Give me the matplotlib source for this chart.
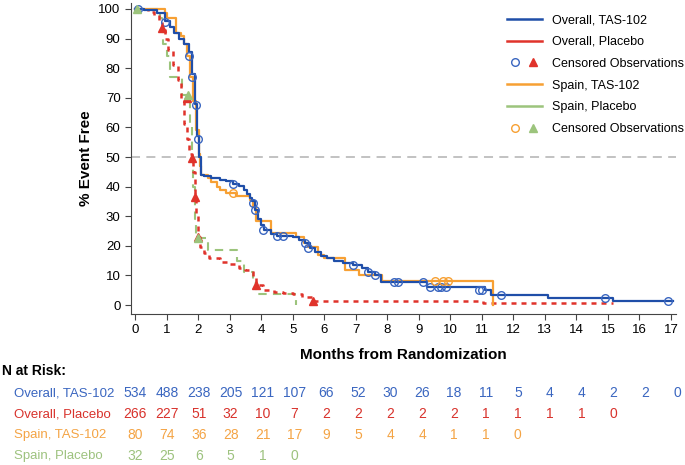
import matplotlib
matplotlib.use("Agg")
import matplotlib.pyplot as plt
from matplotlib.lines import Line2D
from matplotlib.legend_handler import HandlerTuple

plt.rcParams['font.family'] = ['Liberation Sans', 'DejaVu Sans']

# --- Kaplan-Meier step data (months, % event free) ---
ov_tas_t = [0, 0.3, 0.7, 0.95, 1.1, 1.25, 1.4, 1.55, 1.7, 1.8, 1.9, 1.97, 2.03, 2.1, 2.2, 2.4,
            2.7, 2.9, 3.1, 3.3, 3.45, 3.55, 3.65, 3.72, 3.8, 3.9, 4.0, 4.1, 4.3, 4.5, 5.0,
            5.2, 5.4, 5.55, 5.7, 5.9, 6.1, 6.3, 6.6, 6.9, 7.2, 7.4, 7.6, 7.8, 9.25, 11.1,
            11.3, 13.1, 15.15, 17.05]
ov_tas_s = [100, 99.5, 98.5, 96, 94, 92, 90, 88, 85.5, 78, 68, 57, 50, 44, 43.5, 43,
            42.3, 41.8, 41, 40.3, 39, 37.5, 36, 35, 32, 29, 27, 25.5, 24, 23.3, 23,
            22, 21, 19.3, 18, 16.5, 15.8, 15, 14.2, 13.4, 12.5, 11.2, 10.3, 7.8, 6.2, 5.2,
            3.4, 2.5, 1.5, 1.5]
ov_tas_cens_t = [0.1, 0.95, 1.7, 1.8, 1.94, 2.0, 3.1, 3.75, 3.8, 4.05, 4.5, 4.68, 5.4, 5.5,
                 6.9, 7.4, 7.6, 8.2, 8.35, 9.15, 9.37, 9.6, 9.7, 9.85, 10.9, 11.0, 11.6,
                 14.9, 16.9]
ov_tas_cens_s = [100, 95.6, 84, 77, 67.5, 56, 41, 34.5, 32, 25.5, 23.3, 23.3, 21, 19.3,
                 13.4, 11.2, 10.3, 7.8, 7.8, 7.8, 6.2, 6.2, 6.2, 6.2, 5.2, 5.2, 3.4,
                 2.5, 1.5]

ov_pbo_t = [0, 0.4, 0.6, 0.75, 0.85, 0.95, 1.05, 1.2, 1.35, 1.45, 1.55, 1.65, 1.72, 1.8,
            1.85, 1.9, 1.95, 2.0, 2.05, 2.2, 2.35, 2.7, 3.0, 3.3, 3.5, 3.75, 3.85, 4.05,
            4.4, 4.7, 5.0, 5.3, 5.6, 11.05, 15.15]
ov_pbo_s = [100, 99, 98, 96, 93.5, 90, 86, 81, 76, 69, 61, 56, 51, 49.5,
            45, 37, 30, 23, 19.5, 17.5, 16, 14.5, 14, 12.5, 11.8, 9, 6.8, 5,
            4.5, 4, 3.7, 2.7, 1.5, 0.8, 0.8]
ov_pbo_cens_t = [0.87, 1.65, 1.8, 1.9, 1.99, 3.84, 5.65]
ov_pbo_cens_s = [93.5, 70, 49.6, 36.5, 23, 6.8, 1.5]

sp_tas_t = [0, 0.95, 1.0, 1.3, 1.45, 1.55, 1.65, 1.75, 1.85, 1.95, 2.02, 2.07, 2.1, 2.3,
            2.4, 2.6, 2.7, 2.9, 3.2, 3.65, 3.75, 3.85, 4.3, 5.1, 5.35, 5.5, 5.8, 6.0,
            6.65, 7.1, 7.85, 11.35]
sp_tas_s = [100, 98.5, 97, 92, 91, 88, 84, 77, 69, 59, 51, 47, 44, 43,
            41.5, 40, 39, 38, 37, 35.5, 33, 28.5, 24.5, 23, 21, 19.5, 17, 16,
            12, 10, 8, 0]
sp_tas_cens_t = [3.11, 9.52, 9.78, 9.94]
sp_tas_cens_s = [38, 8, 8, 8]

sp_pbo_t = [0, 0.8, 0.85, 0.9, 1.0, 1.1, 1.5, 1.65, 1.75, 1.8, 1.85, 1.9, 1.95, 2.3,
            3.25, 3.45, 3.75, 3.85, 5.12]
sp_pbo_s = [100, 97, 93.5, 88, 84, 77, 71, 70, 60, 50, 40, 29, 22.6, 18.6,
            14.9, 11.2, 7.4, 3.7, 0]
sp_pbo_cens_t = [0.05, 1.68, 1.99]
sp_pbo_cens_s = [100, 71, 22.6]

# --- numbers at risk ---
months = list(range(18))
risk_labels = ['Overall, TAS-102', 'Overall, Placebo', 'Spain, TAS-102', 'Spain, Placebo']
risk_ov_tas = [534, 488, 238, 205, 121, 107, 66, 52, 30, 26, 18, 11, 5, 4, 4, 2, 2, 0]
risk_ov_pbo = [266, 227, 51, 32, 10, 7, 2, 2, 2, 2, 2, 1, 1, 1, 1, 0]
risk_sp_tas = [80, 74, 36, 28, 21, 17, 9, 5, 4, 4, 1, 1, 0]
risk_sp_pbo = [32, 25, 6, 5, 1, 0]

c_blue = '#1f4ea8'
c_red = '#e0332b'
c_orange = '#f7a033'
c_green = '#9cc47c'
t_blue = '#3a66c0'
t_red = '#d8322c'
t_orange = '#f4a445'
t_green = '#9dc27e'

fig = plt.figure(figsize=(6.85, 4.65), dpi=100)
ax = fig.add_axes([131 / 685, 1 - 314 / 465, 545 / 685, 311 / 465])

ax.axhline(50, color='#bdbdbd', lw=1.3, ls=(0, (5, 3.5)), zorder=1)

ax.step(ov_tas_t, ov_tas_s, where='post', color=c_blue, lw=1.6, zorder=4)
ax.step(ov_pbo_t, ov_pbo_s, where='post', color=c_red, lw=1.8, ls=(0, (2, 2)), zorder=3)
ax.step(sp_tas_t, sp_tas_s, where='post', color=c_orange, lw=1.6, zorder=3)
ax.step(sp_pbo_t, sp_pbo_s, where='post', color=c_green, lw=1.5, ls=(0, (4, 3)), zorder=2)

ax.plot(ov_tas_cens_t, ov_tas_cens_s, 'o', mfc='none', mec=t_blue, ms=5.5, mew=1, zorder=5)
ax.plot(sp_tas_cens_t, sp_tas_cens_s, 'o', mfc='none', mec=c_orange, ms=5.5, mew=1, zorder=5)
ax.plot(ov_pbo_cens_t, ov_pbo_cens_s, '^', color=c_red, ms=6, zorder=5)
ax.plot(sp_pbo_cens_t, sp_pbo_cens_s, '^', color=c_green, ms=6, zorder=5)

ax.set_xlim(-0.127, 17.16)
ax.set_ylim(-3, 102)
ax.set_xticks(months)
ax.set_yticks(range(0, 101, 10))
ax.tick_params(labelsize=9.5, length=4, color='#444444')
for s in ['top', 'right']:
    ax.spines[s].set_visible(False)
for s in ['left', 'bottom']:
    ax.spines[s].set_color('#444444')
ax.set_xlabel('Months from Randomization', fontsize=11, fontweight='bold', labelpad=8)
ax.set_ylabel('% Event Free', fontsize=11, fontweight='bold', labelpad=4)

handles = [
    Line2D([], [], color=c_blue, lw=1.8),
    Line2D([], [], color=c_red, lw=1.8),
    (Line2D([], [], marker='o', ls='none', mfc='none', mec=t_blue, ms=5.5),
     Line2D([], [], marker='^', ls='none', color=c_red, ms=6)),
    Line2D([], [], color=c_orange, lw=1.8),
    Line2D([], [], color=c_green, lw=1.8),
    (Line2D([], [], marker='o', ls='none', mfc='none', mec=c_orange, ms=5.5),
     Line2D([], [], marker='^', ls='none', color=c_green, ms=6)),
]
labels = ['Overall, TAS-102', 'Overall, Placebo', 'Censored Observations',
          'Spain, TAS-102', 'Spain, Placebo', 'Censored Observations']
ax.legend(handles, labels, loc='upper right', bbox_to_anchor=(1.035, 1.0), frameon=False,
          fontsize=9, handlelength=2.8, labelspacing=0.78,
          handler_map={tuple: HandlerTuple(ndivide=None, pad=0.1)})

# --- risk table ---
fig.text(2 / 685, 1 - 371 / 465, 'N at Risk:', fontsize=10, fontweight='bold', va='center')
rows = [risk_ov_tas, risk_ov_pbo, risk_sp_tas, risk_sp_pbo]
colors = [t_blue, t_red, t_orange, t_green]
row_y = [393, 414, 435, 456]
trans = matplotlib.transforms.blended_transform_factory(ax.transData, fig.transFigure)
for lab, vals, col, yy in zip(risk_labels, rows, colors, row_y):
    fig.text(14 / 685, 1 - yy / 465, lab, fontsize=9.5, color=col, va='center')
    for m, v in zip(months, vals):
        ax.text(m * 1.012, 1 - yy / 465, str(v), transform=trans, fontsize=10, color=col,
                ha='center', va='center', clip_on=False)

fig.savefig('out.png', dpi=100)
